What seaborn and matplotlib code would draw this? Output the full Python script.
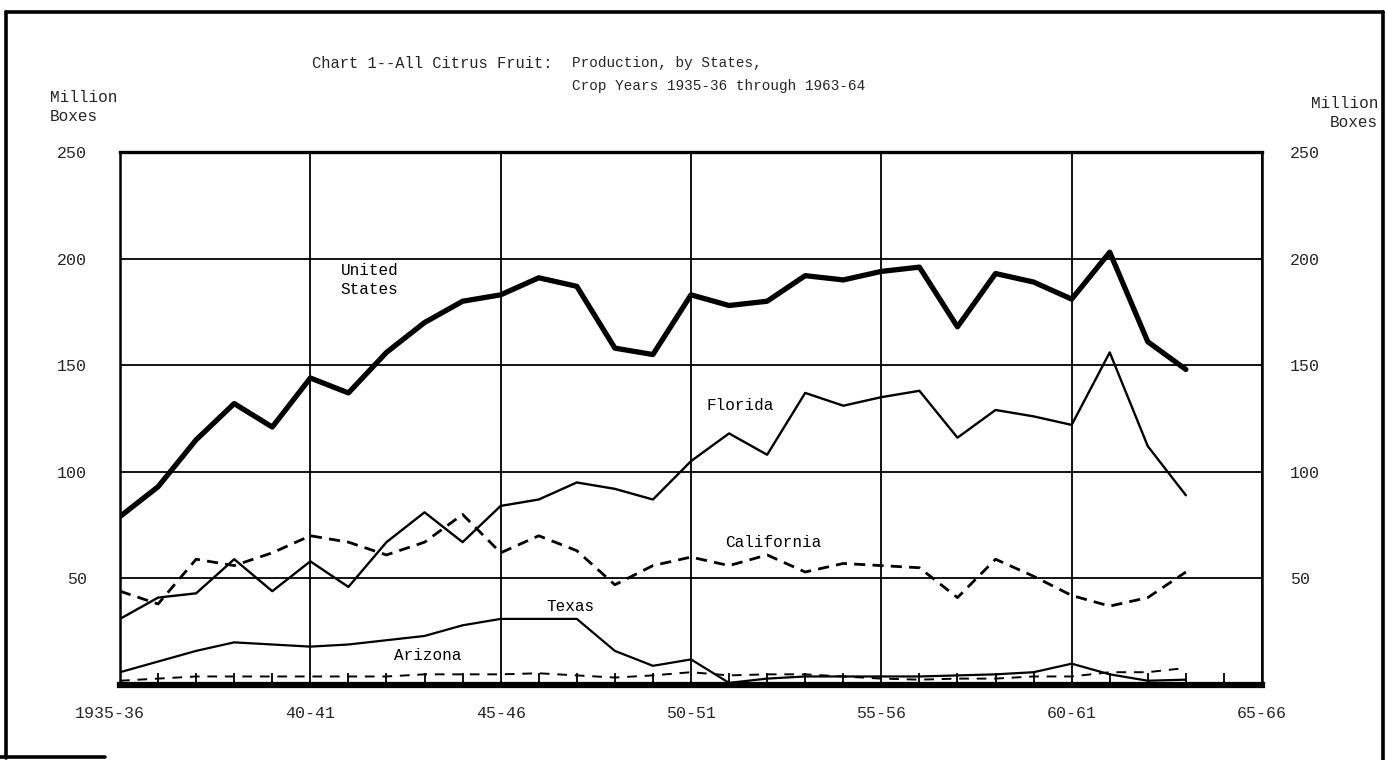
import matplotlib
matplotlib.use("Agg")
import matplotlib.pyplot as plt
import matplotlib.transforms as mtransforms
import seaborn as sns
import pandas as pd
from matplotlib.lines import Line2D
from matplotlib.ticker import FixedLocator

# ---- data (million boxes, crop years 1935-36 .. 1963-64) ----
years = [1935, 1936, 1937, 1938, 1939, 1940, 1941, 1942, 1943, 1944,
         1945, 1946, 1947, 1948, 1949, 1950, 1951, 1952, 1953, 1954,
         1955, 1956, 1957, 1958, 1959, 1960, 1961, 1962, 1963]
united_states = [79, 93, 115, 132, 121, 144, 137, 156, 170, 180,
                 183, 191, 187, 158, 155, 183, 178, 180, 192, 190,
                 194, 196, 168, 193, 189, 181, 203, 161, 148]
florida = [31, 41, 43, 59, 44, 58, 46, 67, 81, 67,
           84, 87, 95, 92, 87, 105, 118, 108, 137, 131,
           135, 138, 116, 129, 126, 122, 156, 112, 89]
california = [44, 38, 59, 56, 62, 70, 67, 61, 67, 80,
              62, 70, 63, 47, 56, 60, 56, 61, 53, 57,
              56, 55, 41, 59, 51, 42, 37, 41, 53]
texas = [6, 11, 16, 20, 19, 18, 19, 21, 23, 28,
         31, 31, 31, 16, 9, 12, 1, 3, 4, 4,
         4, 4, 4.5, 5, 6, 10, 5, 2, 2.5]
arizona = [2, 3, 4, 4, 4, 4, 4, 4, 5, 5,
           5, 5.5, 4.5, 3.5, 4.5, 6, 4.5, 5, 5, 4,
           3, 2.5, 3, 3, 4, 4, 6, 6, 8]

x_ticks = [1935, 1940, 1945, 1950, 1955, 1960, 1965]
x_tick_labels = ["1935-36", "40-41", "45-46", "50-51", "55-56", "60-61", "65-66"]
y_ticks = [50, 100, 150, 200, 250]

df = pd.DataFrame({"year": years, "United States": united_states, "Florida": florida,
                   "California": california, "Texas": texas, "Arizona": arizona})

sns.set_style("white")
plt.rcParams["font.family"] = ["Liberation Mono", "DejaVu Sans Mono"]

W, H = 1387, 760
fig = plt.figure(figsize=(W / 100, H / 100), dpi=100)
ax = fig.add_axes([120 / W, 1 - 685 / H, (1262 - 120) / W, (685 - 152) / H])

sns.lineplot(data=df, x="year", y="United States", ax=ax, color="black", lw=3.8,
             solid_joinstyle="round", zorder=5)
sns.lineplot(data=df, x="year", y="Florida", ax=ax, color="black", lw=1.7, zorder=5)
sns.lineplot(data=df, x="year", y="California", ax=ax, color="black", lw=2.0,
             zorder=5).lines[-1].set_dashes((4, 2.6))
sns.lineplot(data=df, x="year", y="Texas", ax=ax, color="black", lw=1.6, zorder=5)
sns.lineplot(data=df, x="year", y="Arizona", ax=ax, color="black", lw=1.4,
             zorder=5).lines[-1].set_dashes((5, 4))

ax.set_xlim(1935, 1965)
ax.set_ylim(0, 250)
ax.set_xlabel("")
ax.set_ylabel("")
ax.set_xticks(x_ticks)
ax.set_xticklabels(x_tick_labels)
ax.set_yticks(y_ticks)
ax.xaxis.set_minor_locator(FixedLocator(years[1:] + [1964]))
ax.grid(True, which="major", color="black", lw=1.3)
ax.set_axisbelow(True)
ax.tick_params(axis="x", which="major", length=0, pad=15, labelsize=12)
ax.tick_params(axis="x", which="minor", direction="in", length=9, width=1.3,
               color="black", bottom=True)
ax.tick_params(axis="y", which="major", length=0, labelsize=12, pad=24)

# first x label sits a little left of the axis corner
first = ax.get_xticklabels()[0]
first.set_transform(first.get_transform() +
                    mtransforms.ScaledTranslation(-10 / 100, 0, fig.dpi_scale_trans))

for side, lw in [("top", 2.4), ("bottom", 4.5), ("left", 1.8), ("right", 1.8)]:
    ax.spines[side].set_visible(True)
    ax.spines[side].set_color("black")
    ax.spines[side].set_linewidth(lw)

# right-hand value axis
ax2 = ax.twinx()
ax2.set_ylim(0, 250)
ax2.set_yticks(y_ticks)
ax2.tick_params(axis="y", length=0, labelsize=12, pad=20)
ax2.grid(False)
for s in ax2.spines.values():
    s.set_visible(False)

# ---- series labels ----
lab_kw = dict(fontsize=11.5, color="black", zorder=6)
ax.text(1940.8, 190, "United\nStates", ha="left", va="center", linespacing=1.3, **lab_kw)
ax.text(1950.4, 131, "Florida", ha="left", va="center", **lab_kw)
ax.text(1950.9, 67, "California", ha="left", va="center", **lab_kw)
ax.text(1946.2, 37, "Texas", ha="left", va="center", **lab_kw)
ax.text(1942.2, 14, "Arizona", ha="left", va="center", **lab_kw)

# ---- figure texts ----
def fx(px):
    return px / W

def fy(py):
    return 1 - py / H

fig.text(fx(312), fy(63), "Chart 1--All Citrus Fruit:", fontsize=11.2, va="center", ha="left")
fig.text(fx(572), fy(63), "Production, by States,", fontsize=10.4, va="center", ha="left")
fig.text(fx(572), fy(86), "Crop Years 1935-36 through 1963-64", fontsize=10.4, va="center", ha="left")
fig.text(fx(50), fy(107), "Million\nBoxes", fontsize=11.5, va="center", ha="left", linespacing=1.4)
fig.text(fx(1378), fy(113), "Million\nBoxes", fontsize=11.5, va="center", ha="right",
         multialignment="right", linespacing=1.4)

# ---- outer frame of the page ----
frame_kw = dict(color="black", lw=2.6, transform=fig.transFigure)
fig.add_artist(Line2D([fx(6), fx(6)], [fy(12), fy(758)], **frame_kw))
fig.add_artist(Line2D([fx(6), fx(1383)], [fy(12), fy(12)], **frame_kw))
fig.add_artist(Line2D([fx(1383), fx(1383)], [fy(12), fy(760)], **frame_kw))
fig.add_artist(Line2D([fx(0), fx(105)], [fy(757), fy(757)], **frame_kw))

fig.savefig("out.png", dpi=100, facecolor="white")
